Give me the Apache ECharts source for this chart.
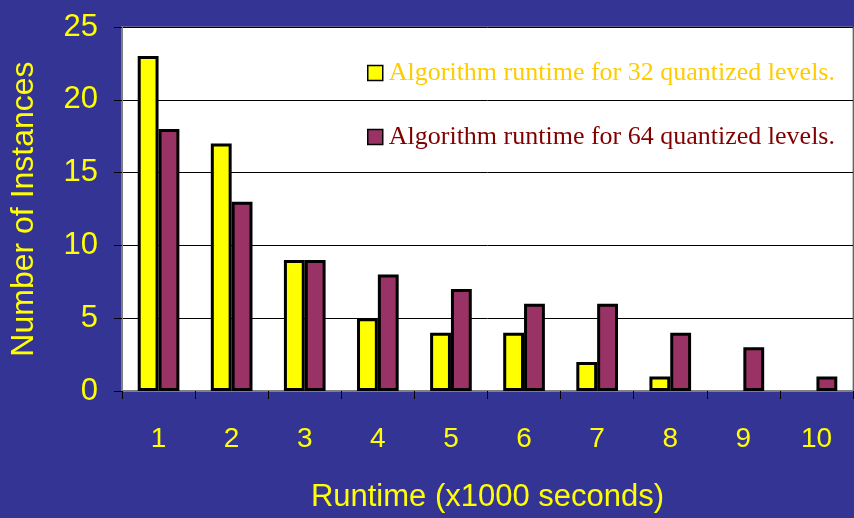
<!DOCTYPE html>
<html>
<head>
<meta charset="utf-8">
<script src="https://cdn.jsdelivr.net/npm/echarts@6/dist/echarts.min.js"></script>
<style>
  html, body { margin: 0; padding: 0; background: #343495; }
  #chart { width: 854px; height: 518px; }
</style>
</head>
<body>
<div id="chart"></div>
<script>
// Runtime buckets (x1000 seconds)
const categories = ['1', '2', '3', '4', '5', '6', '7', '8', '9', '10'];
// Number of instances per runtime bucket
const levels32 = [23, 17, 9, 5, 4, 4, 2, 1, 0, 0];
const levels64 = [18, 13, 9, 8, 7, 6, 6, 4, 3, 1];
const seriesNames = [
  'Algorithm runtime for 32 quantized levels.',
  'Algorithm runtime for 64 quantized levels.'
];
const yTicks = { min: 0, max: 25, interval: 5 };

// Zero-height bars get no outline so nothing shows on the baseline
const toBarData = arr => arr.map(v => v === 0 ? { value: 0, itemStyle: { borderWidth: 0 } } : v);

const sans = 'Liberation Sans, Arial, sans-serif';
const serif = 'Liberation Serif, Times New Roman, serif';

const chart = echarts.init(document.getElementById('chart'), null, { renderer: 'canvas' });
chart.setOption({
  backgroundColor: '#343495',
  animation: false,
  grid: {
    left: 121, top: 27, right: 1, bottom: 125,
    show: true, backgroundColor: '#ffffff',
    borderColor: '#8c8c8c', borderWidth: 1
  },
  legend: {
    orient: 'vertical',
    left: 362, top: 55,
    itemWidth: 15, itemHeight: 15, itemGap: 38,
    icon: 'rect',
    selectedMode: false,
    itemStyle: { borderColor: '#000000', borderWidth: 1.5 },
    textStyle: { fontFamily: serif, fontSize: 26, padding: [0, 0, 0, 1] },
    data: [
      { name: seriesNames[0], textStyle: { color: '#ffcc00' } },
      { name: seriesNames[1], textStyle: { color: '#800000' } }
    ]
  },
  xAxis: {
    type: 'category',
    data: categories,
    name: 'Runtime (x1000 seconds)',
    nameLocation: 'middle',
    nameGap: 91,
    nameTextStyle: { color: '#ffff00', fontFamily: sans, fontSize: 31 },
    axisLine: { show: true, lineStyle: { color: '#808080', width: 2 } },
    axisTick: { show: true, inside: false, length: 8, lineStyle: { color: '#000000', width: 1 } },
    axisLabel: { color: '#ffff00', fontFamily: sans, fontSize: 28, margin: 34 },
    splitLine: { show: false }
  },
  yAxis: {
    type: 'value',
    min: yTicks.min, max: yTicks.max, interval: yTicks.interval,
    name: 'Number of Instances',
    nameLocation: 'middle',
    nameGap: 82,
    nameTextStyle: { color: '#ffff00', fontFamily: sans, fontSize: 32 },
    axisLine: { show: true, lineStyle: { color: '#808080', width: 2 } },
    axisTick: { show: true, inside: false, length: 8, lineStyle: { color: '#000000', width: 1 } },
    axisLabel: { color: '#ffff00', fontFamily: sans, fontSize: 31, margin: 24 },
    splitLine: { show: true, lineStyle: { color: '#000000', width: 1 } }
  },
  series: [
    {
      name: seriesNames[0],
      type: 'bar',
      data: toBarData(levels32),
      barWidth: '28.5%',
      barGap: '0%',
      itemStyle: { color: '#ffff00', borderColor: '#000000', borderWidth: 3 }
    },
    {
      name: seriesNames[1],
      type: 'bar',
      data: toBarData(levels64),
      barWidth: '28.5%',
      barGap: '0%',
      itemStyle: { color: '#993366', borderColor: '#000000', borderWidth: 3 }
    }
  ]
});
</script>
</body>
</html>
